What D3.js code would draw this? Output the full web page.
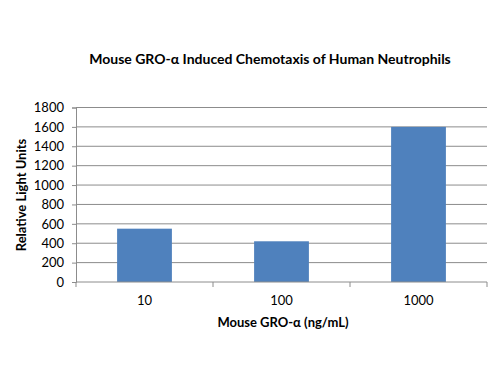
<!DOCTYPE html>
<html lang="en">
<head>
  <meta charset="UTF-8">
  <title>Mouse GRO-α Induced Chemotaxis of Human Neutrophils</title>
  <script src="https://d3js.org/d3.v7.min.js"></script>
  <style>
    body { margin: 0; background: #fff; }
    svg { display: block; font-family: Lato, "Open Sans", sans-serif; }
  </style>
</head>
<body>
  <div id="chart"></div>
  <script>
    // data
    const doses = ["10", "100", "1000"];
    const rlu = [550, 420, 1600];
    const yTicks = [0, 200, 400, 600, 800, 1000, 1200, 1400, 1600, 1800];

    const width = 500, height = 375;
    const margin = { top: 107.5, right: 13, bottom: 93, left: 76 };

    const svg = d3.select("#chart").append("svg")
      .attr("width", width)
      .attr("height", height);

    const x = d3.scaleBand()
      .domain(doses)
      .range([margin.left, width - margin.right])
      .paddingInner(0.6)
      .paddingOuter(0.3);

    const y = d3.scaleLinear()
      .domain([0, 1800])
      .range([height - margin.bottom, margin.top]);

    // gridlines
    svg.append("g")
      .selectAll("line")
      .data(yTicks.slice(1))
      .join("line")
      .attr("x1", margin.left)
      .attr("x2", width - margin.right)
      .attr("y1", d => y(d))
      .attr("y2", d => y(d))
      .attr("stroke", "#8c8c8c")
      .attr("stroke-width", 1);

    // bars
    svg.append("g")
      .selectAll("rect")
      .data(rlu)
      .join("rect")
      .attr("x", (d, i) => x(doses[i]))
      .attr("y", d => y(d))
      .attr("width", x.bandwidth())
      .attr("height", d => y(0) - y(d))
      .attr("fill", "#4f81bd");

    // y axis
    const yAxis = svg.append("g")
      .attr("transform", `translate(${margin.left},0)`)
      .call(d3.axisLeft(y).tickValues(yTicks).tickFormat(d3.format("d"))
        .tickSize(4).tickPadding(8));
    yAxis.selectAll("text").attr("font-size", 13).attr("fill", "#000")
      .attr("font-family", "Lato, 'Open Sans', sans-serif");
    yAxis.selectAll("line").attr("stroke", "#8c8c8c");
    yAxis.select(".domain").attr("stroke", "#8c8c8c");

    // x axis: ticks sit on category boundaries
    const x0 = margin.left, x1 = width - margin.right;
    const step = (x1 - x0) / doses.length;
    const xg = svg.append("g");
    xg.append("line")
      .attr("x1", x0).attr("x2", x1)
      .attr("y1", y(0)).attr("y2", y(0))
      .attr("stroke", "#8c8c8c");
    xg.selectAll("line.tick")
      .data(d3.range(doses.length + 1))
      .join("line")
      .attr("class", "tick")
      .attr("x1", i => x0 + i * step).attr("x2", i => x0 + i * step)
      .attr("y1", y(0)).attr("y2", y(0) + 5)
      .attr("stroke", "#8c8c8c");
    xg.selectAll("text")
      .data(doses)
      .join("text")
      .attr("x", d => x(d) + x.bandwidth() / 2)
      .attr("y", y(0) + 23)
      .attr("text-anchor", "middle")
      .attr("font-size", 13)
      .text(d => d);

    // titles
    svg.append("text")
      .attr("x", 270)
      .attr("y", 64)
      .attr("text-anchor", "middle")
      .attr("font-size", 14)
      .attr("font-weight", "bold")
      .text("Mouse GRO-α Induced Chemotaxis of Human Neutrophils");

    svg.append("text")
      .attr("x", 283)
      .attr("y", 327)
      .attr("text-anchor", "middle")
      .attr("font-size", 13)
      .attr("font-weight", "bold")
      .text("Mouse GRO-α (ng/mL)");

    svg.append("text")
      .attr("transform", "translate(26,195) rotate(-90)")
      .attr("text-anchor", "middle")
      .attr("font-size", 13)
      .attr("font-weight", "bold")
      .text("Relative Light Units");
  </script>
</body>
</html>
